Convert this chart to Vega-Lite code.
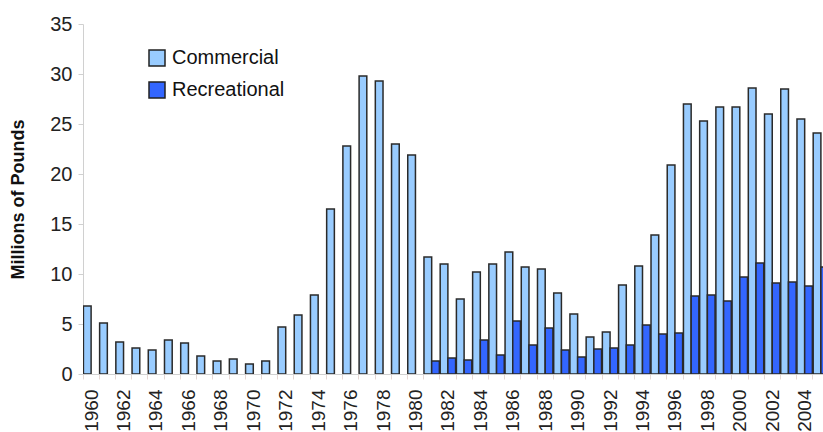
{
  "$schema": "https://vega.github.io/schema/vega-lite/v6.json",
  "width": 740,
  "height": 350,
  "autosize": {"type": "none"},
  "padding": {"left": 83, "top": 24, "right": 0, "bottom": 58},
  "background": "white",
  "config": {
    "view": {"stroke": null},
    "font": "Liberation Sans"
  },
  "datasets": {
    "landings": [
      {"year": 1960, "type": "Commercial", "value": 6.8},
      {"year": 1961, "type": "Commercial", "value": 5.1},
      {"year": 1962, "type": "Commercial", "value": 3.2},
      {"year": 1963, "type": "Commercial", "value": 2.6},
      {"year": 1964, "type": "Commercial", "value": 2.4},
      {"year": 1965, "type": "Commercial", "value": 3.4},
      {"year": 1966, "type": "Commercial", "value": 3.1},
      {"year": 1967, "type": "Commercial", "value": 1.8},
      {"year": 1968, "type": "Commercial", "value": 1.3},
      {"year": 1969, "type": "Commercial", "value": 1.5},
      {"year": 1970, "type": "Commercial", "value": 1.0},
      {"year": 1971, "type": "Commercial", "value": 1.3},
      {"year": 1972, "type": "Commercial", "value": 4.7},
      {"year": 1973, "type": "Commercial", "value": 5.9},
      {"year": 1974, "type": "Commercial", "value": 7.9},
      {"year": 1975, "type": "Commercial", "value": 16.5},
      {"year": 1976, "type": "Commercial", "value": 22.8},
      {"year": 1977, "type": "Commercial", "value": 29.8},
      {"year": 1978, "type": "Commercial", "value": 29.3},
      {"year": 1979, "type": "Commercial", "value": 23.0},
      {"year": 1980, "type": "Commercial", "value": 21.9},
      {"year": 1981, "type": "Commercial", "value": 11.7},
      {"year": 1982, "type": "Commercial", "value": 11.0},
      {"year": 1983, "type": "Commercial", "value": 7.5},
      {"year": 1984, "type": "Commercial", "value": 10.2},
      {"year": 1985, "type": "Commercial", "value": 11.0},
      {"year": 1986, "type": "Commercial", "value": 12.2},
      {"year": 1987, "type": "Commercial", "value": 10.7},
      {"year": 1988, "type": "Commercial", "value": 10.5},
      {"year": 1989, "type": "Commercial", "value": 8.1},
      {"year": 1990, "type": "Commercial", "value": 6.0},
      {"year": 1991, "type": "Commercial", "value": 3.7},
      {"year": 1992, "type": "Commercial", "value": 4.2},
      {"year": 1993, "type": "Commercial", "value": 8.9},
      {"year": 1994, "type": "Commercial", "value": 10.8},
      {"year": 1995, "type": "Commercial", "value": 13.9},
      {"year": 1996, "type": "Commercial", "value": 20.9},
      {"year": 1997, "type": "Commercial", "value": 27.0},
      {"year": 1998, "type": "Commercial", "value": 25.3},
      {"year": 1999, "type": "Commercial", "value": 26.7},
      {"year": 2000, "type": "Commercial", "value": 26.7},
      {"year": 2001, "type": "Commercial", "value": 28.6},
      {"year": 2002, "type": "Commercial", "value": 26.0},
      {"year": 2003, "type": "Commercial", "value": 28.5},
      {"year": 2004, "type": "Commercial", "value": 25.5},
      {"year": 2005, "type": "Commercial", "value": 24.1},
      {"year": 1981, "type": "Recreational", "value": 1.3},
      {"year": 1982, "type": "Recreational", "value": 1.6},
      {"year": 1983, "type": "Recreational", "value": 1.4},
      {"year": 1984, "type": "Recreational", "value": 3.4},
      {"year": 1985, "type": "Recreational", "value": 1.9},
      {"year": 1986, "type": "Recreational", "value": 5.3},
      {"year": 1987, "type": "Recreational", "value": 2.9},
      {"year": 1988, "type": "Recreational", "value": 4.6},
      {"year": 1989, "type": "Recreational", "value": 2.4},
      {"year": 1990, "type": "Recreational", "value": 1.7},
      {"year": 1991, "type": "Recreational", "value": 2.5},
      {"year": 1992, "type": "Recreational", "value": 2.6},
      {"year": 1993, "type": "Recreational", "value": 2.9},
      {"year": 1994, "type": "Recreational", "value": 4.9},
      {"year": 1995, "type": "Recreational", "value": 4.0},
      {"year": 1996, "type": "Recreational", "value": 4.1},
      {"year": 1997, "type": "Recreational", "value": 7.8},
      {"year": 1998, "type": "Recreational", "value": 7.9},
      {"year": 1999, "type": "Recreational", "value": 7.3},
      {"year": 2000, "type": "Recreational", "value": 9.7},
      {"year": 2001, "type": "Recreational", "value": 11.1},
      {"year": 2002, "type": "Recreational", "value": 9.1},
      {"year": 2003, "type": "Recreational", "value": 9.2},
      {"year": 2004, "type": "Recreational", "value": 8.8},
      {"year": 2005, "type": "Recreational", "value": 10.7}
    ]
  },
  "data": {"name": "landings"},
  "mark": {"type": "bar", "clip": true, "stroke": "#2a2a2a", "strokeWidth": 1.5},
  "encoding": {
    "x": {
      "field": "year",
      "type": "ordinal",
      "scale": {"range": [0, 746], "paddingInner": 0.05, "paddingOuter": 0.025},
      "axis": {
        "title": null,
        "labelAngle": -90,
        "labelFontSize": 19,
        "labelColor": "#222",
        "labelPadding": 10,
        "labelOverlap": false,
        "labelExpr": "datum.value % 2 == 0 ? datum.label : ''",
        "tickBand": "extent",
        "tickSize": 5,
        "tickColor": "#e6d8d4",
        "domainColor": "#d0d0d0"
      }
    },
    "xOffset": {
      "field": "type",
      "type": "nominal",
      "scale": {"domain": ["Commercial", "Recreational"], "paddingInner": 0, "paddingOuter": 0}
    },
    "y": {
      "field": "value",
      "type": "quantitative",
      "scale": {"domain": [0, 35], "nice": false},
      "axis": {
        "title": "Millions of Pounds",
        "titleFontSize": 18,
        "titleFontWeight": "bold",
        "titleColor": "#111",
        "titlePadding": 22,
        "values": [0, 5, 10, 15, 20, 25, 30, 35],
        "labelFontSize": 20,
        "labelColor": "#222",
        "labelPadding": 6,
        "grid": false,
        "tickSize": 5,
        "tickColor": "#d0d0d0",
        "domainColor": "#d0d0d0"
      }
    },
    "color": {
      "field": "type",
      "type": "nominal",
      "scale": {"domain": ["Commercial", "Recreational"], "range": ["#99CCFF", "#3366FF"]},
      "legend": {
        "title": null,
        "orient": "none",
        "legendX": 64,
        "legendY": 24,
        "symbolType": "square",
        "symbolSize": 256,
        "symbolStrokeColor": "#222",
        "symbolStrokeWidth": 1.5,
        "symbolOpacity": 1,
        "labelFontSize": 20,
        "labelColor": "#111",
        "labelOffset": 5,
        "rowPadding": 10
      }
    }
  }
}
